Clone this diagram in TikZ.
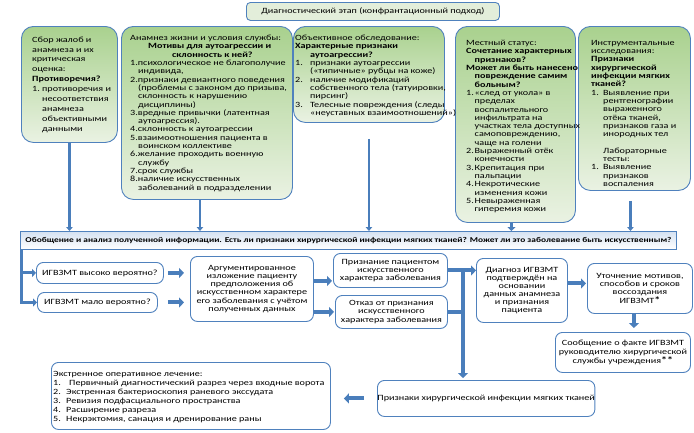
\documentclass[tikz,border=0pt]{standalone}
\usepackage{fontspec}
\setmainfont{Carlito}[FakeStretch=1.27]
\usetikzlibrary{arrows.meta,calc}
\definecolor{bord}{HTML}{4F81BD}
\definecolor{gtop}{HTML}{A9D18E}
\definecolor{gbot}{HTML}{EAF2E3}
\definecolor{arr}{HTML}{4A7EBB}
\definecolor{hdrfill}{HTML}{E3EEDA}
\definecolor{bartop}{HTML}{D5E2F2}
\newcommand{\fstar}{{\fontsize{9.5}{9}\selectfont\textbf{*}}}
\begin{document}
\begin{tikzpicture}[x=1pt,y=-1pt,
 every node/.style={text=black},
 gbox/.style={draw=bord, line width=0.9pt, rounded corners=12pt, top color=gtop, bottom color=gbot, anchor=north west, inner sep=0pt},
 wbox/.style={draw=bord, line width=0.9pt, rounded corners=7pt, fill=white, anchor=north west, inner sep=0pt, align=center, font=\fontsize{8}{8.1}\selectfont},
 hbox/.style={draw=bord, line width=0.9pt, rounded corners=4pt, fill=hdrfill, anchor=north west, inner sep=0pt, font=\fontsize{8}{8.3}\selectfont},
 barbox/.style={draw=bord, line width=0.9pt, top color=bartop, bottom color=white, anchor=north west, inner sep=0pt, font=\fontsize{7.4}{8.3}\selectfont\bfseries},
 tx/.style={anchor=north west, inner sep=0pt, align=left, font=\fontsize{8}{8.3}\selectfont},
 txa/.style={anchor=north west, inner sep=0pt, align=left, font=\fontsize{8}{9.9}\selectfont},
 txe/.style={anchor=north west, inner sep=0pt, align=left, font=\fontsize{8}{8.9}\selectfont},
 thinarrow/.style={draw=arr, line width=2.6pt, -{Triangle[length=4pt,width=6.5pt]}},
 blockarrow/.style={draw=arr, line width=4pt, -{Triangle[length=5pt,width=10pt]}},
 smallblock/.style={draw=arr, line width=3pt, -{Triangle[length=4pt,width=8pt]}},
]
\useasboundingbox (0,0) rectangle (694,432);

% header
\node[hbox, minimum width=253, minimum height=18] (hdr) at (246,2) {Диагностический этап (конфрантационный подход)};

% green boxes
\node[gbox, minimum width=96, minimum height=116] (b1) at (21,26) {};
\node[gbox, minimum width=171, minimum height=173] (b2) at (121,26) {};
\node[gbox, minimum width=151, minimum height=96] (b3) at (293,26) {};
\node[gbox, minimum width=120, minimum height=196] (b4) at (455,26) {};
\node[gbox, minimum width=112, minimum height=164] (b5) at (578,26) {};

\node[txa] (t1) at (32,36.5) {Сбор жалоб и\\анамнеза и их\\критическая\\оценка:\\\textbf{Противоречия?}\\\makebox[10pt][l]{1.}противоречия и\\\hspace*{10pt}несоответствия\\\hspace*{10pt}анамнеза\\\hspace*{10pt}объективными\\\hspace*{10pt}данными};

\node[tx] (t2) at (130,35) {Анамнез жизни и условия службы:\\\hspace*{18pt}\textbf{Мотивы для аутоагрессии и}\\\hspace*{42pt}\textbf{склонность к ней?}\\1.психологическое не благополучие\\\hspace*{8pt}индивида,\\2.признаки девиантного поведения\\\hspace*{8pt}(проблемы с законом до призыва,\\\hspace*{8pt}склонность к нарушению\\\hspace*{8pt}дисциплины)\\3.вредные привычки (латентная\\\hspace*{8pt}аутоагрессия).\\4.склонность к аутоагрессии\\5.взаимоотношения пациента в\\\hspace*{8pt}воинском коллективе\\6.желание проходить военную\\\hspace*{8pt}службу\\7.срок службы\\8.наличие искусственных\\\hspace*{8pt}заболеваний в подразделении};

\node[tx] (t3) at (295,35) {Объективное обследование:\\\textbf{Характерные признаки}\\\hspace*{15pt}\textbf{аутоагрессии?}\\\makebox[15pt][l]{1.}признаки аутоагрессии\\\hspace*{15pt}(«типичные» рубцы на коже)\\\makebox[15pt][l]{2.}наличие модификаций\\\hspace*{15pt}собственного тела (татуировки,\\\hspace*{15pt}пирсинг)\\\makebox[15pt][l]{3.}Телесные повреждения (следы\\\hspace*{15pt}«неуставных взаимоотношений»)};

\node[tx] (t4) at (466,40) {Местный статус:\\\textbf{Сочетание характерных}\\\hspace*{8.5pt}\textbf{признаков?}\\\textbf{Может ли быть нанесено}\\\hspace*{8.5pt}\textbf{повреждение самим}\\\hspace*{8.5pt}\textbf{больным?}\\\makebox[8.5pt][l]{1.}«след от укола» в\\\hspace*{8.5pt}пределах\\\hspace*{8.5pt}воспалительного\\\hspace*{8.5pt}инфильтрата на\\\hspace*{8.5pt}участках тела доступных\\\hspace*{8.5pt}самоповреждению,\\\hspace*{8.5pt}чаще на голени\\\makebox[8.5pt][l]{2.}Выраженный отёк\\\hspace*{8.5pt}конечности\\\makebox[8.5pt][l]{3.}Крепитация при\\\hspace*{8.5pt}пальпации\\\makebox[8.5pt][l]{4.}Некротические\\\hspace*{8.5pt}изменения кожи\\\makebox[8.5pt][l]{5.}Невыраженная\\\hspace*{8.5pt}гиперемия кожи};

\node[tx] (t5) at (591,40) {Инструментальные\\исследования:\\\textbf{Признаки}\\\textbf{хирургической}\\\textbf{инфекции мягких}\\\textbf{тканей?}\\\makebox[12pt][l]{1.}Выявление при\\\hspace*{12pt}рентгенографии\\\hspace*{12pt}выраженного\\\hspace*{12pt}отёка тканей,\\\hspace*{12pt}признаков газа и\\\hspace*{12pt}инородных тел\\[8.3pt]\hspace*{12pt}Лабораторные\\\hspace*{12pt}тесты:\\\makebox[12pt][l]{1.}Выявление\\\hspace*{12pt}признаков\\\hspace*{12pt}воспаления};

% summary bar
\node[barbox, minimum width=656, minimum height=18] (bar) at (20,231) {Обобщение и анализ полученной информации. Есть ли признаки хирургической инфекции мягких тканей? Может ли это заболевание быть искусственным?};

% arrows into bar
\coordinate (a1) at (b1.south);
\coordinate (a2) at ($(b2.south)+(-7,0)$);
\coordinate (a3) at ($(b3.south)+(0,16)$);
\coordinate (a4) at ($(b4.south)+(-4,0)$);
\coordinate (a5) at ($(b5.south)+(-4,10)$);
\draw[thinarrow] (a1) -- (a1 |- bar.north);
\draw[thinarrow] (a2) -- (a2 |- bar.north);
\draw[thinarrow] (a3) -- (a3 |- bar.north);
\draw[smallblock] (a4) -- (a4 |- bar.north);
\draw[thinarrow] (a5) -- (a5 |- bar.north);

% middle row
\node[wbox, minimum width=127, minimum height=21] (m1) at (36,262) {ИГВЗМТ высоко вероятно?};
\node[wbox, minimum width=120, minimum height=20] (m2) at (37,292) {ИГВЗМТ мало вероятно?};
\node[wbox, minimum width=123, minimum height=65] (arg) at (190,256) {Аргументированное\\изложение пациенту\\предположения об\\искусственном характере\\его заболевания с учётом\\полученных данных};
\node[wbox, minimum width=114, minimum height=34] (p1) at (333,253) {Признание пациентом\\искусственного\\характера заболевания};
\node[wbox, minimum width=112, minimum height=33] (p2) at (335,295) {Отказ от признания\\искусственного\\характера заболевания};
\node[wbox, minimum width=91, minimum height=64] (dg) at (476,258) {Диагноз ИГВЗМТ\\подтверждён на\\основании\\данных анамнеза\\и признания\\пациента};
\node[wbox, minimum width=105, minimum height=50] (ut) at (587,263) {Уточнение мотивов,\\способов и сроков\\воссоздания\\ИГВЗМТ\fstar};
\node[wbox, minimum width=135, minimum height=40] (so) at (555,332) {Сообщение о факте ИГВЗМТ\\руководителю хирургической\\службы учреждения\fstar\fstar};
\node[wbox, minimum width=203, minimum height=36] (pr) at (377,380) {Признаки хирургической инфекции мягких тканей};
\node[wbox, minimum width=279, minimum height=67] (ek) at (51,362) {};
\node[txe] (tek) at (53,371.5) {Экстренное оперативное лечение:\\\makebox[16pt][l]{1.}Первичный диагностический разрез через входные ворота\\\makebox[13pt][l]{2.}Экстренная бактериоскопия раневого экссудата\\\makebox[13pt][l]{3.}Ревизия подфасциального пространства\\\makebox[13pt][l]{4.}Расширение разреза\\\makebox[13pt][l]{5.}Некрэктомия, санация и дренирование раны};

% left bracket
\coordinate (lb) at ($(bar.south west)+(1,0)$);
\draw[smallblock] (lb) |- (m2.west);
\draw[smallblock] (lb |- m1.west) -- (m1.west);

% block arrows
\draw[blockarrow] ($(m1.east)+(4,0)$) -- ($(m1.east -| arg.west)+(-6,0)$);
\draw[blockarrow] ($(m2.east -| m1.east)+(4,0)$) -- ($(m2.east -| arg.west)+(-6,0)$);
\draw[blockarrow] ($(arg.east)+(0,-8)$) -- ($(arg.east -| p1.west)+(-1,-8)$);
\draw[blockarrow] ($(arg.east)+(0,23)$) -- ($(arg.east -| p2.west)+(-1,23)$);
\coordinate (vx) at (463,0);
\draw[blockarrow] (p1.east) -- (p1.east -| dg.west);
\draw[blockarrow] (p1.east -| vx) -- ($(vx |- pr.north)+(0,-2)$);
\draw[draw=arr, line width=4pt] (p2.east) -- (p2.east -| vx);
\draw[blockarrow] ($(dg.east)+(0,-7)$) -- ($(dg.east -| ut.west)+(-1,-7)$);
\draw[blockarrow] ($(ut.south)+(-6,0)$) -- ($(ut.south |- so.north)+(-6,-4)$);
\draw[blockarrow] ($(pr.west)+(-13,0)$) -- ($(pr.west -| ek.east)+(13,0)$);
\end{tikzpicture}
\end{document}
